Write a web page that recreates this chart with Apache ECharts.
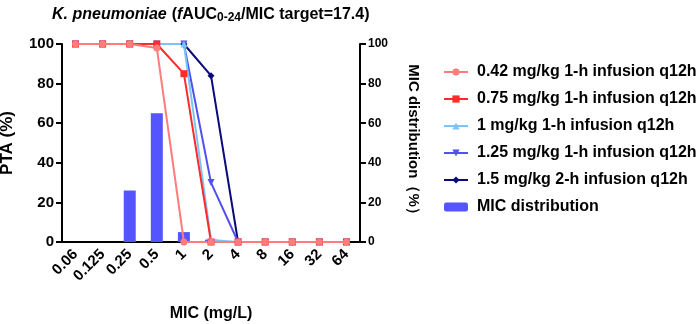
<!DOCTYPE html>
<html>
<head>
<meta charset="utf-8">
<script src="https://cdn.jsdelivr.net/npm/echarts@6/dist/echarts.min.js"></script>
<style>
html, body { margin: 0; padding: 0; background: #fff; }
#chart1 { width: 699px; height: 324px; }
</style>
</head>
<body>
<div id="chart1"></div>
<script>
// MIC 分类
var micLabels = ['0.06', '0.125', '0.25', '0.5', '1', '2', '4', '8', '16', '32', '64']
// PTA (%)
var pta042 = [100, 100, 100, 98, 0, 0, 0, 0, 0, 0, 0]
var pta075 = [100, 100, 100, 100, 85, 0, 0, 0, 0, 0, 0]
var pta1 = [100, 100, 100, 100, 100, 1, 0, 0, 0, 0, 0]
var pta125 = [100, 100, 100, 100, 100, 30, 0, 0, 0, 0, 0]
var pta15 = [100, 100, 100, 100, 100, 84, 0, 0, 0, 0, 0]
// MIC 分布 (%)
var micDist = [0, 0, 26, 65, 5, 1.2, 0, 0, 0, 0, 0]
var yTicks = [0, 20, 40, 60, 80, 100]

var font = 'Arial, "Liberation Sans", sans-serif'
var chart1 = echarts.init(document.getElementById('chart1'))

function lineSeries (name, data, color, symbol, size, rotate) {
    return {
        name: name,
        type: 'line',
        data: data,
        symbol: symbol,
        symbolSize: size,
        symbolRotate: rotate || 0,
        lineStyle: { color: color, width: 2 },
        itemStyle: { color: color },
        z: 3
    }
}

var axisBase = {
    type: 'value',
    min: yTicks[0],
    max: yTicks[yTicks.length - 1],
    interval: 20,
    axisLine: { show: true, lineStyle: { color: '#000', width: 2 } },
    axisTick: { show: true, length: 6, lineStyle: { color: '#000', width: 2 } },
    splitLine: { show: false },
    nameLocation: 'middle'
}

var option = {
    animation: false,
    title: {
        text: '{i|K. pneumoniae} {n|(}{i|f}{n|AUC}{s|0-24}{n|/MIC target=17.4)}',
        left: 47,
        top: 0,
        textStyle: {
            rich: {
                i: { fontStyle: 'italic', fontWeight: 'bold', fontSize: 16, fontFamily: font, color: '#000' },
                n: { fontWeight: 'bold', fontSize: 16, fontFamily: font, color: '#000' },
                s: { fontWeight: 'bold', fontSize: 12, fontFamily: font, color: '#000', padding: [7, 0, 0, 0] }
            }
        }
    },
    grid: { left: 62, right: 339, top: 44, bottom: 82, containLabel: false, outerBoundsMode: 'none' },
    legend: {
        orient: 'vertical',
        left: 438,
        top: 59,
        itemGap: 11,
        itemWidth: 24,
        itemHeight: 9,
        textStyle: { color: '#000', fontWeight: 'bold', fontSize: 16, fontFamily: font, padding: [0, 0, 0, 4] },
        data: [
            '0.42 mg/kg 1-h infusion q12h',
            '0.75 mg/kg 1-h infusion q12h',
            '1 mg/kg 1-h infusion q12h',
            '1.25 mg/kg 1-h infusion q12h',
            '1.5 mg/kg 2-h infusion q12h',
            { name: 'MIC distribution', itemStyle: { color: '#5555ff' } }
        ]
    },
    xAxis: {
        type: 'category',
        data: micLabels,
        name: 'MIC (mg/L)',
        nameLocation: 'middle',
        nameGap: 64,
        nameTextStyle: { color: '#000', fontWeight: 'bold', fontSize: 16, fontFamily: font },
        axisLine: { lineStyle: { color: '#000', width: 2 } },
        axisTick: { alignWithLabel: true, length: 6, lineStyle: { color: '#000', width: 2 } },
        axisLabel: { rotate: 45, interval: 0, color: '#000', fontWeight: 'bold', fontSize: 15, fontFamily: font, margin: 10 }
    },
    yAxis: [
        Object.assign({}, axisBase, {
            name: 'PTA (%)',
            position: 'left',
            nameGap: 46,
            nameTextStyle: { color: '#000', fontWeight: 'bold', fontSize: 17, fontFamily: font },
            axisLabel: { color: '#000', fontWeight: 'bold', fontSize: 15, fontFamily: font, margin: 8 }
        }),
        Object.assign({}, axisBase, {
            name: 'MIC distribution（%）',
            position: 'right',
            nameGap: 46,
            nameRotate: -90,
            nameTextStyle: { color: '#000', fontWeight: 'bold', fontSize: 15, fontFamily: font },
            axisLabel: { color: '#000', fontWeight: 'bold', fontSize: 12, fontFamily: font, margin: 8 }
        })
    ],
    series: [
        {
            name: 'MIC distribution',
            type: 'bar',
            yAxisIndex: 1,
            data: micDist,
            barWidth: 12,
            itemStyle: { color: '#5555ff' },
            z: 1
        },
        lineSeries('1.5 mg/kg 2-h infusion q12h', pta15, '#0a0a78', 'diamond', 7),
        lineSeries('1.25 mg/kg 1-h infusion q12h', pta125, '#5050f0', 'triangle', 7, 180),
        lineSeries('1 mg/kg 1-h infusion q12h', pta1, '#7cc4f8', 'triangle', 7),
        lineSeries('0.75 mg/kg 1-h infusion q12h', pta075, '#ff2a2a', 'rect', 7),
        lineSeries('0.42 mg/kg 1-h infusion q12h', pta042, '#ff7c7c', 'circle', 7)
    ]
}
chart1.setOption(option)
</script>
</body>
</html>
